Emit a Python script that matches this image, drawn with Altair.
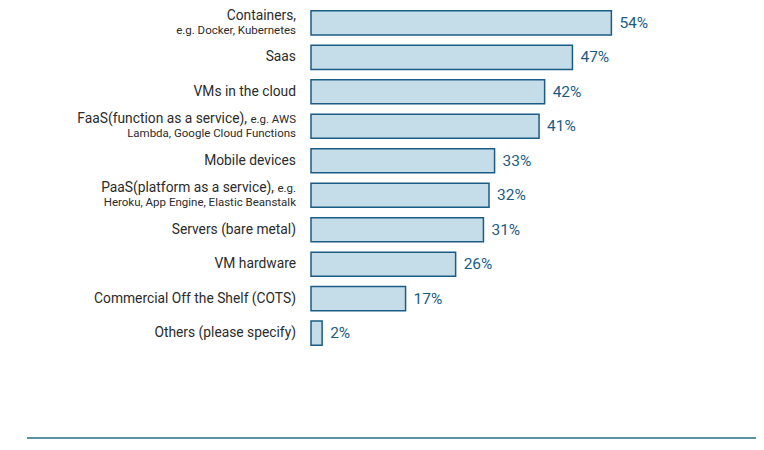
import altair as alt
import pandas as pd

categories = [
    "Containers,",
    "Saas",
    "VMs in the cloud",
    "FaaS(function as a service),",
    "Mobile devices",
    "PaaS(platform as a service),",
    "Servers (bare metal)",
    "VM hardware",
    "Commercial Off the Shelf (COTS)",
    "Others (please specify)",
]
inline_notes = ["", "", "", "e.g. AWS", "", "e.g.", "", "", "", ""]
second_lines = [
    "e.g. Docker, Kubernetes",
    "",
    "",
    "Lambda, Google Cloud Functions",
    "",
    "Heroku, App Engine, Elastic Beanstalk",
    "",
    "",
    "",
    "",
]
values = [54, 47, 42, 41, 33, 32, 31, 26, 17, 2]

df = pd.DataFrame({
    "cat": categories,
    "inline": inline_notes,
    "second": second_lines,
    "value": values,
})
df["label"] = [f"{v}%" for v in values]

FONT = "Roboto"
LABEL_COLOR = "#2b2b2b"
BIG = 13.8
SMALL = 11.5

y_enc = alt.Y("cat:N", sort=categories, axis=None,
              scale=alt.Scale(paddingInner=0.3, paddingOuter=0.08))
x_enc = alt.X("value:Q", axis=None, scale=alt.Scale(domain=[0, 80]))

base = alt.Chart(df)

bars = base.mark_bar(fill="#c5dde8", stroke="#1b5c84", strokeWidth=1.5).encode(
    x=x_enc, y=y_enc
)

pct = base.mark_text(align="left", baseline="middle", dx=8, font=FONT,
                     fontSize=15.5, color="#1b5c84").encode(
    x="value:Q", y=alt.Y("cat:N", sort=categories), text="label:N"
)

def label_layer(filter_expr, x_px, dy, size, field):
    return base.transform_filter(filter_expr).mark_text(
        align="right", baseline="middle", dy=dy, font=FONT,
        fontSize=size, color=LABEL_COLOR
    ).encode(
        x=alt.value(x_px), y=alt.Y("cat:N", sort=categories), text=f"{field}:N"
    )

single = label_layer("datum.second == ''", -15, 0, BIG, "cat")
double_plain = label_layer("datum.second != '' && datum.inline == ''", -15, -7, BIG, "cat")
faas_main = label_layer("datum.inline == 'e.g. AWS'", -64, -7, BIG, "cat")
paas_main = label_layer("datum.inline == 'e.g.'", -37, -7, BIG, "cat")
inline_txt = label_layer("datum.inline != ''", -15, -6.5, SMALL, "inline")
second_txt = label_layer("datum.second != ''", -15, 8, SMALL, "second")

rule = alt.Chart(alt.Data(values=[{}])).mark_rule(
    color="#5b93a5", strokeWidth=2
).encode(x=alt.value(-284), x2=alt.value(460), y=alt.value(430))

chart = alt.layer(
    bars, pct, single, double_plain, faas_main, paas_main, inline_txt, second_txt, rule
).properties(
    width=445, height=340,
    autosize=alt.AutoSizeParams(type="none"),
    padding={"left": 303, "top": 0, "right": 0, "bottom": 94},
).configure_view(stroke=None)

chart.save("out.html", embed_options={"renderer": "svg", "actions": False})
